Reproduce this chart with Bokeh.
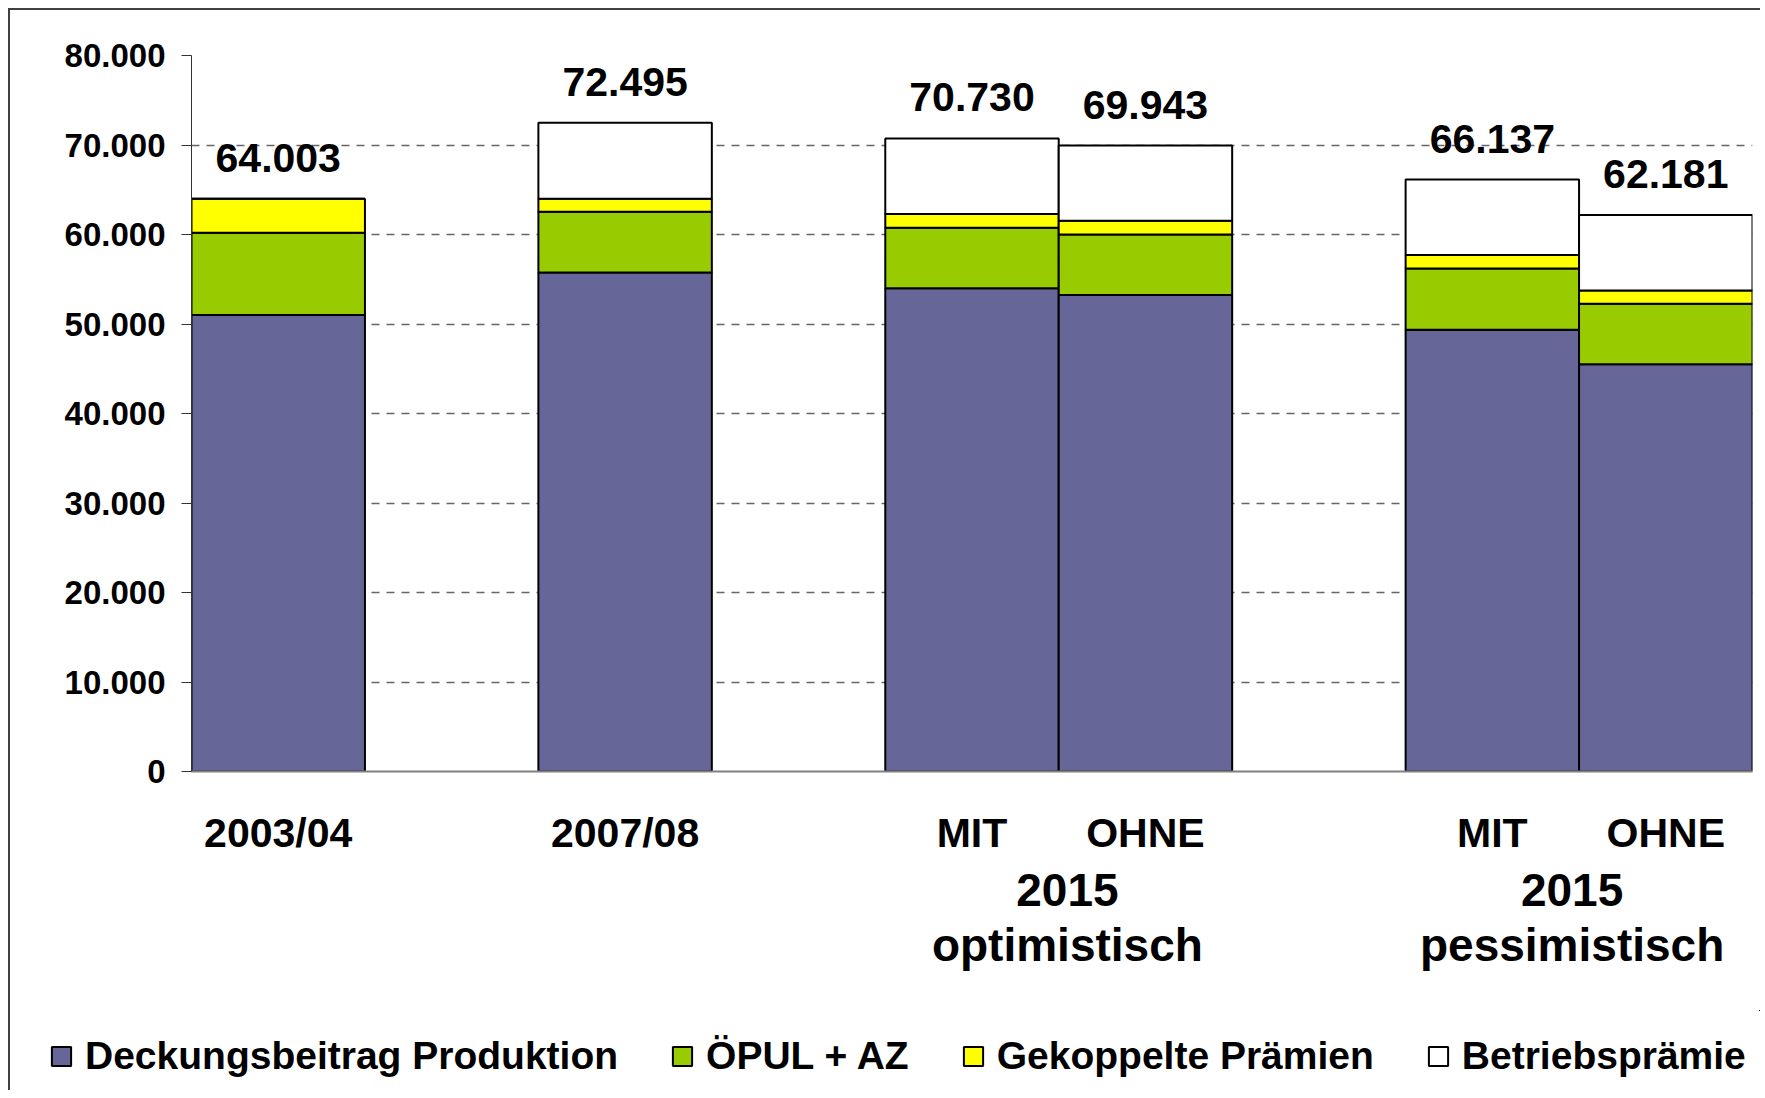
from bokeh.plotting import figure
from bokeh.layouts import column
from bokeh.models import (Range1d, FixedTicker, LinearAxis, Legend, LegendItem,
                          ColumnDataSource)
from bokeh.core.properties import value
from bokeh.embed import file_html
from bokeh.resources import INLINE

# ---------------- data ----------------
bar_labels = ["2003/04", "2007/08", "MIT", "OHNE", "MIT", "OHNE"]
bar_x = [0.5, 2.5, 4.5, 5.5, 7.5, 8.5]
group_x = [5.05, 7.96]
group_year = ["2015", "2015"]
group_scen = ["optimistisch", "pessimistisch"]

series = ["Deckungsbeitrag Produktion", "ÖPUL + AZ", "Gekoppelte Prämien", "Betriebsprämie"]
deckungsbeitrag = [51000, 55750, 54000, 53250, 49350, 45500]
oepul = [9200, 6800, 6750, 6750, 6850, 6750]
gekoppelt = [3803, 1450, 1530, 1530, 1500, 1490]
betrieb = [0, 8495, 8450, 8413, 8437, 8441]
colors = ["#666699", "#99CC00", "#FFFF00", "#FFFFFF"]

y_ticks = [0, 10000, 20000, 30000, 40000, 50000, 60000, 70000, 80000]

# ---------------- helpers ----------------
def de_fmt(v):
    return f"{int(v):,}".replace(",", ".")

totals = [a + b + c + d for a, b, c, d in zip(deckungsbeitrag, oepul, gekoppelt, betrieb)]

FONT = "Liberation Sans"

W, H = 1750, 1000
TOP, LEFT, RIGHT = 45, 181, 8
p = figure(width=W, height=H, output_backend="svg", toolbar_location=None,
           x_range=Range1d(0, 9), y_range=Range1d(0, 80000),
           min_border_left=LEFT, min_border_right=RIGHT, min_border_top=TOP,
           min_border_bottom=H - TOP - 716, x_axis_location=None)
p.frame_align = False
p.outline_line_color = None
p.background_fill_color = "white"
p.border_fill_color = "white"

# y axis
p.yaxis.ticker = FixedTicker(ticks=y_ticks)
p.yaxis.major_label_overrides = {t: de_fmt(t) for t in y_ticks}
p.yaxis.major_label_text_font = FONT
p.yaxis.major_label_text_font_style = "bold"
p.yaxis.major_label_text_font_size = "33px"
p.yaxis.major_label_text_color = "black"
p.yaxis.axis_line_color = "#333333"
p.yaxis.axis_line_width = 1
p.yaxis.major_tick_line_color = "#333333"
p.yaxis.major_tick_in = 0
p.yaxis.major_tick_out = 10
p.yaxis.minor_tick_line_color = None
p.yaxis.major_label_standoff = 16

p.xgrid.visible = False
p.ygrid.ticker = FixedTicker(ticks=y_ticks[1:])
p.ygrid.grid_line_color = "#666666"
p.ygrid.grid_line_dash = "8 7"
p.ygrid.grid_line_width = 1.5

# x axes (three rows)
ax1 = LinearAxis(ticker=FixedTicker(ticks=bar_x),
                 major_label_overrides={x: l for x, l in zip(bar_x, bar_labels)})
ax2 = LinearAxis(ticker=FixedTicker(ticks=group_x),
                 major_label_overrides={x: l for x, l in zip(group_x, group_year)})
ax3 = LinearAxis(ticker=FixedTicker(ticks=group_x),
                 major_label_overrides={x: l for x, l in zip(group_x, group_scen)})
for ax in [ax1, ax2, ax3]:
    ax.major_label_text_font = FONT
    ax.major_label_text_font_style = "bold"
    ax.major_label_text_font_size = "46px"
    ax.major_label_text_color = "black"
    ax.major_tick_line_color = None
    ax.minor_tick_line_color = None
    ax.major_tick_in = 0
    ax.major_tick_out = 0
    ax.axis_line_color = None
ax1.major_label_text_font_size = "41px"
ax1.axis_line_color = "#808080"
ax1.axis_line_width = 2
ax1.major_label_standoff = 38
ax2.major_label_standoff = 15
ax3.major_label_standoff = 10
p.add_layout(ax1, "below")
p.add_layout(ax2, "below")
p.add_layout(ax3, "below")

# bars
src = ColumnDataSource(dict(x=bar_x, db=deckungsbeitrag, oe=oepul, gk=gekoppelt,
                            bp=betrieb, total=totals,
                            label=[de_fmt(t) for t in totals]))
stack_cols = ["db", "oe", "gk", "bp"]
renderers = p.vbar_stack(stack_cols, x="x", width=1.0, source=src,
                         fill_color=colors, line_color="black", line_width=2)

p.text(x="x", y="total", text="label", source=src, text_align="center",
       text_baseline="alphabetic", y_offset=-41, text_font=value(FONT),
       text_font_style="bold", text_font_size="41px", text_color="black")

# ---------------- legend strip ----------------
H2 = 80
q = figure(width=W, height=H2, output_backend="svg", toolbar_location=None,
           x_range=Range1d(-30, -21), y_range=Range1d(-2, -1),
           min_border=0, x_axis_location=None, y_axis_location=None)
q.frame_align = False
q.outline_line_color = None
q.xgrid.visible = False
q.ygrid.visible = False
# same series, out of this strip's view; only their legend swatches are seen
leg_renderers = q.vbar_stack(stack_cols, x="x", width=1.0, source=src,
                             fill_color=colors, line_color="black", line_width=2)
legend = Legend(items=[LegendItem(label=s, renderers=[r]) for s, r in zip(series, leg_renderers)],
                orientation="horizontal", location=(39, 12),
                label_text_font=FONT, label_text_font_style="bold",
                label_text_font_size="39px", label_text_color="black",
                glyph_width=24, glyph_height=24, label_standoff=12, spacing=52,
                padding=0, margin=0, border_line_color=None,
                background_fill_alpha=0)
q.add_layout(legend, "center")

layout = column(p, q, spacing=0)
layout.styles = {"border-top": "2px solid #404040", "border-left": "2px solid #404040",
                 "margin-left": "8px", "margin-top": "8px"}

open("out.html", "w").write(file_html(layout, INLINE))
